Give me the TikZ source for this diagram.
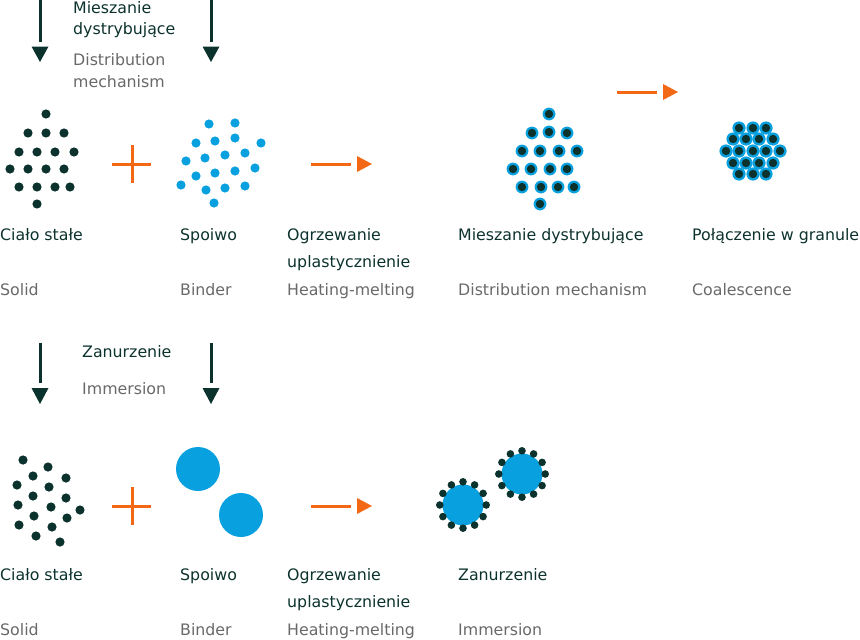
\documentclass[tikz,border=0pt]{standalone}
\usepackage{fontspec}
\setmainfont{DejaVu Sans}
\usetikzlibrary{calc}
\definecolor{dk}{RGB}{12,50,45}
\definecolor{txtgray}{RGB}{105,105,105}
\definecolor{bl}{RGB}{8,160,222}
\definecolor{orng}{RGB}{242,104,20}
\begin{document}
\begin{tikzpicture}[x=1pt,y=-1pt,
  lbl/.style={anchor=base west, inner sep=0pt, text=dk, font=\fontsize{15.8}{18}\selectfont},
  en/.style={lbl, text=txtgray},
  dshaft/.style={line width=3pt, draw=dk},
  oshaft/.style={line width=3pt, draw=orng},
  plus/.style={line width=3pt, draw=orng},
  sdot/.style={fill=dk},
  bdot/.style={fill=bl}]
\useasboundingbox (0,0) rectangle (860,640);

% ---------- section 1 ----------
\coordinate (a1s) at (40,0);  \coordinate (a1e) at (40,62);
\coordinate (a2s) at (211,0); \coordinate (a2e) at (211,62);
\foreach \s/\e in {a1s/a1e, a2s/a2e}{
  \draw[dshaft] (\s) -- ($(\e)+(0,-20)$);
  \fill[dk] ($(\e)+(-8.5,-15.5)$) -- ($(\e)+(8.5,-15.5)$) -- (\e) -- cycle;}
\node[lbl] (t1) at (73,13) {Mieszanie};
\node[lbl] (t2) at (73,34) {dystrybujące};
\node[en] (t3) at (73,65) {Distribution};
\node[en] (t4) at (73,87) {mechanism};

% solid dots
\foreach \x/\y in {46/114, 28/133,46/133,64/133, 19/152,37/152,55/152,74/152,
  10/169,28/169,46/169,64/169, 19/187,37/187,55/187,70/187, 37/204}
  \fill[sdot] (\x,\y) circle[radius=4.6pt];
% plus
\draw[plus] (112,164) -- (151,164) (132,145) -- (132,183);
% binder dots
\foreach \x/\y in {209/124,235/123, 196/143,215/141,235/138,261/143,
  186/161,205/158,225/155,245/153, 196/176,215/173,235/171,255/168,
  181/185,206/190,225/188,245/186, 214/203}
  \fill[bdot] (\x,\y) circle[radius=4.6pt];
% orange arrows (heating, coalescence)
\coordinate (h1s) at (311,164); \coordinate (h1e) at (372,164);
\coordinate (c1s) at (617,92);  \coordinate (c1e) at (678,92);
\coordinate (h2s) at (311,506); \coordinate (h2e) at (372,506);
\foreach \s/\e in {h1s/h1e, c1s/c1e, h2s/h2e}{
  \draw[oshaft] (\s) -- ($(\e)+(-21,0)$);
  \fill[orng] ($(\e)+(-15,-8)$) -- ($(\e)+(-15,8)$) -- (\e) -- cycle;}
% mixing cluster
\foreach \x/\y in {549/114, 532/133,549/132,567/133, 522/151,540/151,559/151,577/151,
  513/169,531/169,550/169,567/169, 522/187,541/187,558/187,574/187, 540/204}
  {\fill[bdot] (\x,\y) circle[radius=6.4pt];
   \fill[sdot] (\x,\y) circle[radius=4.2pt];}
% hex cluster
\foreach \x/\y in {739/128,753/128,766/128,
  733/139,746/139,759/139,773/139,
  726/151,739/151,753/151,766/151,780/151,
  733/163,746/163,759/163,773/163,
  739/174,753/174,766/174}
  {\fill[bdot] (\x,\y) circle[radius=6.6pt];}
\foreach \x/\y in {739/128,753/128,766/128,
  733/139,746/139,759/139,773/139,
  726/151,739/151,753/151,766/151,780/151,
  733/163,746/163,759/163,773/163,
  739/174,753/174,766/174}
  {\fill[sdot] (\x,\y) circle[radius=4.2pt];}

% labels row 1
\node[lbl] (l1) at (0,240) {Ciało stałe};
\node[lbl] (l2) at (180,240) {Spoiwo};
\node[lbl] (l3) at (287,240) {Ogrzewanie};
\node[lbl] (l3b) at (287,267) {uplastycznienie};
\node[lbl] (l4) at (458,240) {Mieszanie dystrybujące};
\node[lbl] (l5) at (692,240) {Połączenie w granule};
\node[en] (e1) at (0,295) {Solid};
\node[en] (e2) at (180,295) {Binder};
\node[en] (e3) at (287,295) {Heating-melting};
\node[en] (e4) at (458,295) {Distribution mechanism};
\node[en] (e5) at (692,295) {Coalescence};

% ---------- section 2 ----------
\coordinate (b1s) at (40,343);  \coordinate (b1e) at (40,404);
\coordinate (b2s) at (211,343); \coordinate (b2e) at (211,404);
\foreach \s/\e in {b1s/b1e, b2s/b2e}{
  \draw[dshaft] (\s) -- ($(\e)+(0,-21)$);
  \fill[dk] ($(\e)+(-8.5,-16)$) -- ($(\e)+(8.5,-16)$) -- (\e) -- cycle;}
\node[lbl] (z1) at (82,357) {Zanurzenie};
\node[en] (z2) at (82,394) {Immersion};

\foreach \x/\y in {23/460,48/467,33/476,66/478,17/485,49/487,33/496,66/498,
  18/505,51/507,80/510,34/516,67/518,19/525,52/527,36/536,60/542}
  \fill[sdot] (\x,\y) circle[radius=4.6pt];
\draw[plus] (112,506) -- (151,506) (132,487) -- (132,525);
\fill[bdot] (198,469) circle[radius=22pt];
\fill[bdot] (241,515) circle[radius=22pt];
% immersion particles
\foreach \cx/\cy in {463/505, 522/474}
  {\fill[bdot] (\cx,\cy) circle[radius=20.5pt];
   \foreach \a in {0,30,...,330}
     \fill[sdot] ($(\cx,\cy)+(\a:23.2pt)$) circle[radius=3.8pt];}

% labels row 2
\node[lbl] (m1) at (0,580) {Ciało stałe};
\node[lbl] (m2) at (180,580) {Spoiwo};
\node[lbl] (m3) at (287,580) {Ogrzewanie};
\node[lbl] (m3b) at (287,607) {uplastycznienie};
\node[lbl] (m4) at (458,580) {Zanurzenie};
\node[en] (f1) at (0,635) {Solid};
\node[en] (f2) at (180,635) {Binder};
\node[en] (f3) at (287,635) {Heating-melting};
\node[en] (f4) at (458,635) {Immersion};
\end{tikzpicture}
\end{document}
